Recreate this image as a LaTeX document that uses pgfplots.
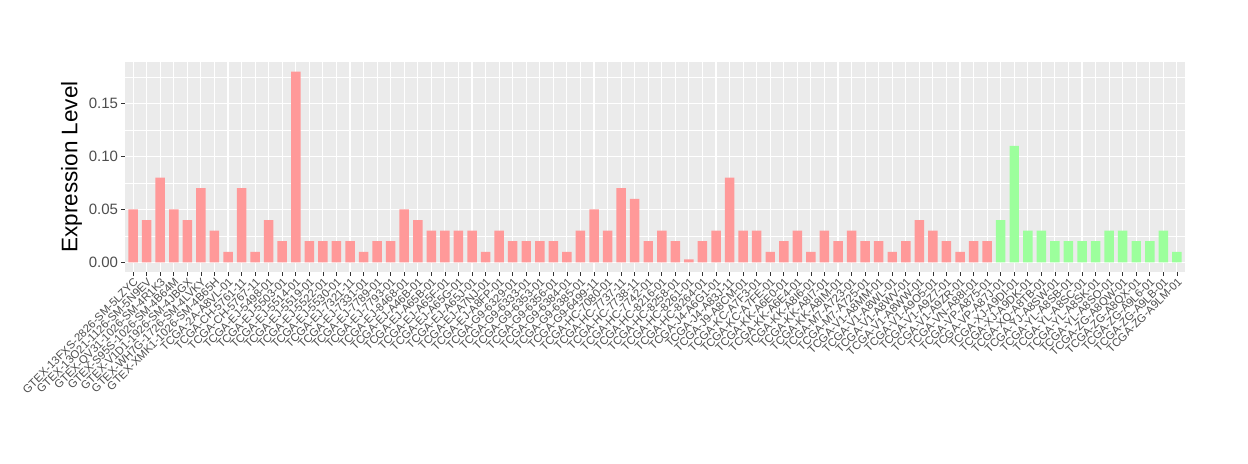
\documentclass[border=0pt]{standalone}
\usepackage{pgfplots}
\pgfplotsset{compat=1.18}
\usepackage{fontspec}
\setmainfont{Liberation Sans}
\definecolor{panelbg}{HTML}{EBEBEB}
\definecolor{ticktxt}{HTML}{4D4D4D}
\definecolor{tickln}{HTML}{333333}
\definecolor{barred}{HTML}{FF9999}
\definecolor{bargreen}{HTML}{9CFF9C}
\begin{document}
\begin{tikzpicture}
\useasboundingbox (-125bp,-192bp) rectangle (1123bp,272bp);
\begin{axis}[
    at={(0,0)}, anchor=south west,
    scale only axis,
    width=1060bp, height=210bp,
    xmin=0.4, xmax=78.6,
    ymin=-0.009, ymax=0.189,
    axis background/.style={fill=panelbg},
    axis line style={draw=none},
    xtick={1,...,78},
    xticklabels={GTEX-13FXS-2826-SM-5LZYC,GTEX-13O21-1126-SM-5N9EV,GTEX-QV31-1026-SM-4R1K3,GTEX-S95S-1026-SM-4B64M,GTEX-V1D1-1926-SM-4JBGX,GTEX-WH7G-1726-SM-4LVKY,GTEX-XMK1-1026-SM-4B65H,TCGA-2A-A8VL-01,TCGA-CH-5761-11,TCGA-CH-5767-11,TCGA-EJ-5498-01,TCGA-EJ-5503-01,TCGA-EJ-5514-01,TCGA-EJ-5519-01,TCGA-EJ-5522-01,TCGA-EJ-5530-01,TCGA-EJ-7321-11,TCGA-EJ-7331-01,TCGA-EJ-7789-01,TCGA-EJ-7793-01,TCGA-EJ-8468-01,TCGA-EJ-A46B-01,TCGA-EJ-A65B-01,TCGA-EJ-A65F-01,TCGA-EJ-A65G-01,TCGA-EJ-A65J-01,TCGA-EJ-A7NJ-01,TCGA-EJ-A8FP-01,TCGA-G9-6329-01,TCGA-G9-6333-01,TCGA-G9-6353-01,TCGA-G9-6356-01,TCGA-G9-6384-01,TCGA-G9-6385-01,TCGA-G9-6499-11,TCGA-HC-7080-01,TCGA-HC-7737-11,TCGA-HC-7738-11,TCGA-HC-7742-01,TCGA-HC-8216-01,TCGA-HC-8258-01,TCGA-HC-8261-01,TCGA-HC-8264-01,TCGA-J4-A6G1-01,TCGA-J4-A83J-11,TCGA-J9-A8CM-01,TCGA-KC-A7F3-01,TCGA-KC-A7FE-01,TCGA-KK-A6E0-01,TCGA-KK-A6E4-01,TCGA-KK-A8I6-01,TCGA-KK-A8I7-01,TCGA-KK-A8IM-01,TCGA-M7-A723-01,TCGA-M7-A725-01,TCGA-V1-A8MM-01,TCGA-V1-A8WL-01,TCGA-V1-A8WV-01,TCGA-V1-A8WW-01,TCGA-V1-A9O5-01,TCGA-V1-A9Z7-01,TCGA-V1-A9ZR-01,TCGA-VN-A88I-01,TCGA-VP-A875-01,TCGA-VP-A87J-01,TCGA-XJ-A9DI-01,TCGA-XJ-A9DK-01,TCGA-XQ-A8TB-01,TCGA-YJ-A8SW-01,TCGA-YL-A8SB-01,TCGA-YL-A8SC-01,TCGA-YL-A8SK-01,TCGA-YL-A8SO-01,TCGA-ZG-A8QW-01,TCGA-ZG-A8QX-01,TCGA-ZG-A9L6-01,TCGA-ZG-A9LB-01,TCGA-ZG-A9LM-01},
    xticklabel style={font=\fontsize{11.3bp}{11.3bp}\selectfont, text=ticktxt, rotate=45, anchor=north east, inner sep=1bp},
    ytick={0,0.05,0.10,0.15},
    minor ytick={0.025,0.075,0.125,0.175},
    yticklabel style={font=\fontsize{15bp}{15bp}\selectfont, text=ticktxt, /pgf/number format/fixed, /pgf/number format/fixed zerofill, /pgf/number format/precision=2, /pgf/number format/assume math mode=true},
    xtick pos=bottom, ytick pos=left,
    tick align=outside,
    major tick length=3.5bp,
    major tick style={draw=tickln, line width=0.8bp},
    minor tick style={draw=none},
    xmajorgrids, ymajorgrids, yminorgrids,
    major grid style={white, line width=1.07bp},
    minor grid style={white, line width=0.53bp},
    ylabel={Expression Level},
    ylabel style={font=\fontsize{22.5bp}{22.5bp}\selectfont, black},
    ybar, bar width=0.7, bar shift=0pt,
]
\addplot[fill=barred, draw=none] coordinates {
(1,0.05) (2,0.04) (3,0.08) (4,0.05) (5,0.04) (6,0.07) (7,0.03) (8,0.01) (9,0.07) (10,0.01)
(11,0.04) (12,0.02) (13,0.18) (14,0.02) (15,0.02) (16,0.02) (17,0.02) (18,0.01) (19,0.02) (20,0.02)
(21,0.05) (22,0.04) (23,0.03) (24,0.03) (25,0.03) (26,0.03) (27,0.01) (28,0.03) (29,0.02) (30,0.02)
(31,0.02) (32,0.02) (33,0.01) (34,0.03) (35,0.05) (36,0.03) (37,0.07) (38,0.06) (39,0.02) (40,0.03)
(41,0.02) (42,0.003) (43,0.02) (44,0.03) (45,0.08) (46,0.03) (47,0.03) (48,0.01) (49,0.02) (50,0.03)
(51,0.01) (52,0.03) (53,0.02) (54,0.03) (55,0.02) (56,0.02) (57,0.01) (58,0.02) (59,0.04) (60,0.03)
(61,0.02) (62,0.01) (63,0.02) (64,0.02)};
\addplot[fill=bargreen, draw=none] coordinates {
(65,0.04) (66,0.11) (67,0.03) (68,0.03) (69,0.02) (70,0.02) (71,0.02) (72,0.02) (73,0.03) (74,0.03)
(75,0.02) (76,0.02) (77,0.03) (78,0.01)};
\end{axis}
\end{tikzpicture}
\end{document}
